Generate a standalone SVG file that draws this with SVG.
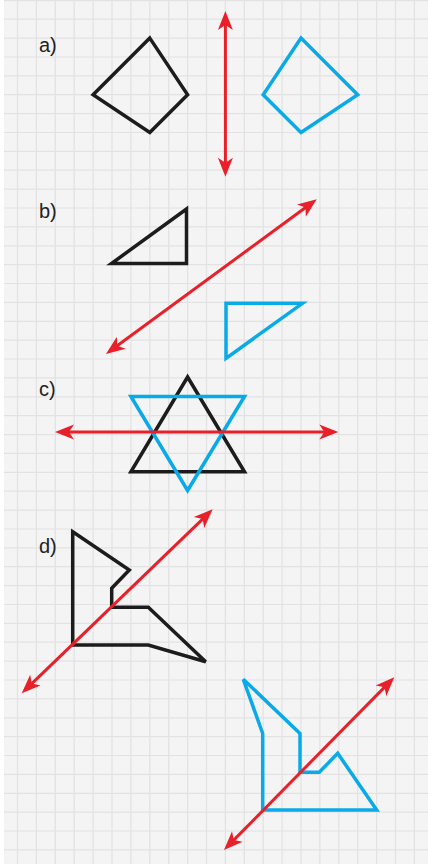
<svg xmlns="http://www.w3.org/2000/svg" width="428" height="864" viewBox="0 0 428 864">
<style>
.grid{fill:none;stroke:#e2e2e2;stroke-width:1.2}
.blk{fill:none;stroke:#1c1c1c;stroke-width:3.5;stroke-linejoin:miter}
.blu{fill:none;stroke:#0aaae8;stroke-width:3.5;stroke-linejoin:miter}
.axis{fill:none;stroke:#e8202a;stroke-width:3;marker-start:url(#ah);marker-end:url(#ah)}
.lbl{font-family:"Liberation Sans",Arial,sans-serif;font-size:20px;fill:#222}
</style>
<defs>
<marker id="ah" markerUnits="userSpaceOnUse" orient="auto-start-reverse" refX="0" refY="0" markerWidth="40" markerHeight="40" viewBox="-20 -20 40 40" overflow="visible">
<path d="M5,0 L-14,-7.5 L-9,0 L-14,7.5 Z" fill="#e8202a"/>
</marker>
</defs>
<rect width="428" height="864" fill="#ffffff"/>
<rect x="4" y="0" width="424" height="864" fill="#f4f4f4"/>
<path class="grid" d="M17.5,0V864M36.4,0V864M55.3,0V864M74.2,0V864M93.1,0V864M112,0V864M130.9,0V864M149.8,0V864M168.7,0V864M187.6,0V864M206.5,0V864M225.4,0V864M244.3,0V864M263.2,0V864M282.1,0V864M301,0V864M319.9,0V864M338.8,0V864M357.7,0V864M376.6,0V864M395.5,0V864M414.4,0V864
M4,0.6H428M4,19.2H428M4,38.1H428M4,57H428M4,75.8H428M4,94.7H428M4,113.6H428M4,132.5H428M4,151.4H428M4,170.2H428M4,189.1H428M4,208H428M4,226.9H428M4,245.8H428M4,264.6H428M4,283.5H428M4,302.4H428M4,321.3H428M4,340.2H428M4,359H428M4,377.9H428M4,396.8H428M4,415.7H428M4,434.6H428M4,453.4H428M4,472.3H428M4,491.2H428M4,510.1H428M4,529H428M4,547.8H428M4,566.7H428M4,585.6H428M4,604.5H428M4,623.4H428M4,642.2H428M4,661.1H428M4,680H428M4,698.9H428M4,717.8H428M4,736.6H428M4,755.5H428M4,774.4H428M4,793.3H428M4,812.2H428M4,831H428M4,849.9H428"/>

<g id="part-a">
<text class="lbl" x="39" y="52">a)</text>
<g id="a-black"><polygon class="blk" points="149.8,38.1 187.6,94.7 149.8,132.5 93.1,94.7"/></g>
<g id="a-blue"><polygon class="blu" points="301,38.1 357.7,94.7 301,132.5 263.2,94.7"/></g>
</g>

<g id="part-b">
<text class="lbl" x="39" y="218">b)</text>
<g id="b-black"><polygon class="blk" points="186.5,209 186.5,263.5 111.5,263.5"/></g>
<g id="b-blue"><polygon class="blu" points="226,303.3 302.5,303.3 226,358.3"/></g>
</g>

<g id="part-c">
<text class="lbl" x="39" y="396">c)</text>
<g id="c-black"><polygon class="blk" points="187.6,377 244.5,471.8 130.9,471.8"/></g>
<g id="c-blue"><polygon class="blu" points="130.9,396.5 244.5,396.5 187.6,490.5"/></g>
</g>

<g id="part-d">
<text class="lbl" x="39" y="553">d)</text>
<g id="d-black"><polygon class="blk" points="72.7,531.7 129.3,570 111.7,588.3 111.7,607.3 148.3,607.3 205.7,661.7 148.3,645 72.7,645"/></g>
<g id="d-blue"><polygon class="blu" points="243.3,679.3 300,733.5 300,772.3 319.3,772.3 337.7,753.3 376.7,810 262.7,810 262.7,733.5"/></g>
</g>

<g id="axes">
<line class="axis" x1="225.4" y1="16" x2="225.4" y2="171.7"/>
<line class="axis" x1="110" y1="351" x2="312.7" y2="202.3"/>
<line class="axis" x1="60" y1="432" x2="333.3" y2="432"/>
<line class="axis" x1="25.3" y1="689.8" x2="209.1" y2="512.8"/>
<line class="axis" x1="227.5" y1="846.4" x2="390.8" y2="680.9"/>
</g>
</svg>
